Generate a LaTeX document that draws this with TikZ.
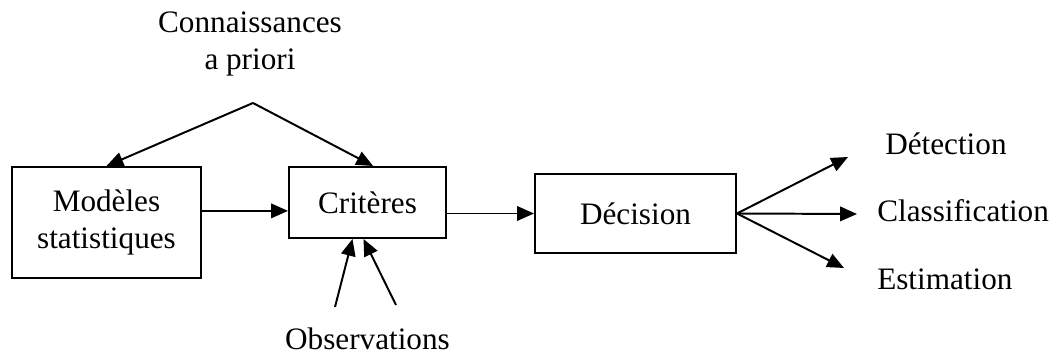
\documentclass[tikz,border=0pt]{standalone}
\usepackage{fontspec}
\setmainfont{Liberation Serif}
\usetikzlibrary{arrows.meta, calc}
\tikzset{
  block/.style={draw, line width=1.4pt, inner sep=0pt, align=center},
  flow/.style={-{Triangle[length=4.2mm, width=3.6mm]}, line width=1.4pt},
  every node/.append style={font=\fontsize{22.2}{25.8}\selectfont}
}

\begin{document}
\begin{tikzpicture}
\useasboundingbox (0,0) rectangle (26.6,-8.875);
\node[block, minimum width=4.725cm, minimum height=2.775cm] (mod) at (2.6625,-5.5625) {Modèles\\statistiques};
\node[block, minimum width=3.925cm, minimum height=1.775cm] (crit) at (9.1875,-5.0625) {Critères};
\node[block, minimum width=5.025cm, minimum height=1.975cm] (dec) at (15.8875,-5.3375) {Décision};
\node[align=center, inner sep=0pt] (prior) at (6.25,-1.1) {Connaissances\\a priori};
\node[anchor=base, inner sep=0pt] (obs) at (9.1875,-8.75) {Observations};
\node[anchor=base west, inner sep=0pt] (det) at (22.125,-3.875) {Détection};
\node[anchor=base west, inner sep=0pt] (cls) at (21.925,-5.55) {Classification};
\node[anchor=base west, inner sep=0pt] (est) at (21.925,-7.25) {Estimation};
\coordinate (apex) at (6.325,-2.575);
\coordinate (o1) at (8.375,-7.675);
\coordinate (o2) at (9.9,-7.625);
\coordinate (m1) at ([yshift=0.29cm]mod.east);
\coordinate (tdet) at (21.2,-3.925);
\coordinate (tcls) at (21.425,-5.35);
\coordinate (test) at (21.1,-6.7);
% a priori knowledge feeds models and criteria
\draw[flow] (apex) -- (mod.north);
\draw[flow] (apex) -- ([xshift=0.14cm]crit.north);
\draw[flow] (m1) -- (m1 -| crit.west);
\draw[flow] (dec.west -| crit.east) -- (dec.west);
\draw[flow] (o1) -- ([xshift=-0.375cm]crit.south);
\draw[flow] (o2) -- ([xshift=-0.1cm]crit.south);
% outputs of the decision
\draw[flow] (dec.east) -- (tdet);
\draw[flow] (dec.east) -- (tcls);
\draw[flow] (dec.east) -- (test);
\end{tikzpicture}
\end{document}
